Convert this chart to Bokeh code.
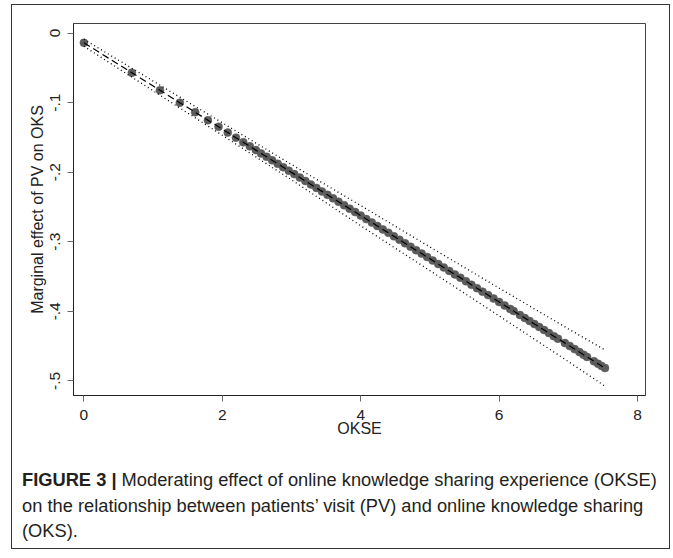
from bokeh.plotting import figure
from bokeh.models import FixedTicker, Column, Div
from bokeh.embed import file_html
from bokeh.resources import INLINE

# ---- data ----
okse = [0.000, 0.693, 1.099, 1.386, 1.609, 1.792, 1.946, 2.079, 2.197, 2.303, 2.398, 2.485,
        2.56, 2.64, 2.72, 2.80, 2.88, 2.96, 3.04, 3.12, 3.20, 3.28, 3.36, 3.44, 3.52, 3.60,
        3.68, 3.76, 3.84, 3.92, 4.00, 4.08, 4.16, 4.24, 4.32, 4.40, 4.48, 4.56, 4.64, 4.72,
        4.80, 4.88, 4.96, 5.04, 5.12, 5.20, 5.28, 5.36, 5.44, 5.52, 5.60, 5.68, 5.76, 5.84,
        5.92, 6.00, 6.08, 6.16, 6.21, 6.30, 6.37, 6.44, 6.51, 6.58, 6.65, 6.72, 6.79, 6.85,
        6.95, 7.02, 7.09, 7.16, 7.22, 7.27, 7.37, 7.43, 7.48, 7.53]
effect = [-0.0140, -0.0570, -0.0822, -0.1001, -0.1139, -0.1253, -0.1348, -0.1431, -0.1504,
          -0.1570, -0.1629, -0.1683,
          -0.1730, -0.1779, -0.1829, -0.1879, -0.1928, -0.1978, -0.2028, -0.2078, -0.2127,
          -0.2177, -0.2226, -0.2276, -0.2326, -0.2376, -0.2425, -0.2475, -0.2525, -0.2574,
          -0.2624, -0.2674, -0.2723, -0.2773, -0.2823, -0.2872, -0.2922, -0.2972, -0.3021,
          -0.3071, -0.3121, -0.3170, -0.3220, -0.3270, -0.3320, -0.3369, -0.3419, -0.3469,
          -0.3518, -0.3568, -0.3618, -0.3667, -0.3717, -0.3767, -0.3816, -0.3866, -0.3916,
          -0.3965, -0.3996, -0.4052, -0.4096, -0.4139, -0.4183, -0.4226, -0.4270, -0.4313,
          -0.4357, -0.4394, -0.4456, -0.4499, -0.4543, -0.4586, -0.4624, -0.4655, -0.4717,
          -0.4754, -0.4785, -0.4816]

ci_x = [0.0, 1.0, 2.0, 3.0, 4.0, 5.0, 6.0, 7.0, 7.53]
ci_upper = [-0.0090, -0.0690, -0.1290, -0.1890, -0.2480, -0.3075, -0.3666, -0.4252, -0.4556]
ci_lower = [-0.0190, -0.0830, -0.1470, -0.2110, -0.2770, -0.3415, -0.4066, -0.4722, -0.5076]

x_ticks = [0, 2, 4, 6, 8]
x_tick_labels = ["0", "2", "4", "6", "8"]
y_ticks = [0.0, -0.1, -0.2, -0.3, -0.4, -0.5]
y_tick_labels = ["0", "-.1", "-.2", "-.3", "-.4", "-.5"]

x_title = "OKSE"
y_title = "Marginal effect of PV on OKS"
caption_bold = "FIGURE 3 |"
caption_lines = ["Moderating effect of online knowledge sharing experience (OKSE)",
                 "on the relationship between patients\u2019 visit (PV) and online knowledge sharing",
                 "(OKS)."]

# ---- main plot ----
W = 657          # inner width of the bordered panel
HP = 455         # height of the plot part
HC = 88          # height of the caption part
FL, FT, FR, FB = 61, 18, 633, 390   # frame box in plot-figure pixels

p = figure(width=W, height=HP, x_range=(-0.15, 8.115), y_range=(-0.521, 0.0137),
           output_backend="svg", toolbar_location=None,
           min_border_left=FL, min_border_right=W - FR,
           min_border_top=FT, min_border_bottom=HP - FB)
p.background_fill_color = "white"
p.border_fill_color = "white"
p.outline_line_color = "#444444"
p.outline_line_width = 1
p.grid.visible = False

font = "Liberation Sans"
for ax in (p.xaxis[0], p.yaxis[0]):
    ax.axis_line_color = "#222222"
    ax.major_tick_line_color = "#666666"
    ax.major_tick_out = 6
    ax.major_tick_in = 0
    ax.minor_tick_line_color = None
    ax.major_label_text_font = font
    ax.major_label_text_font_size = "15.5px"
    ax.major_label_text_color = "#222222"
    ax.axis_label_text_font = font
    ax.axis_label_text_font_size = "16px"
    ax.axis_label_text_font_style = "normal"
    ax.axis_label_text_color = "#222222"

p.xaxis.ticker = FixedTicker(ticks=x_ticks)
p.xaxis.major_label_overrides = dict(zip(x_ticks, x_tick_labels))
p.xaxis.axis_label = x_title
p.xaxis.major_label_standoff = 8
p.xaxis.axis_label_standoff = -3

p.yaxis.ticker = FixedTicker(ticks=y_ticks)
p.yaxis.major_label_overrides = dict(zip(y_ticks, y_tick_labels))
p.yaxis.axis_label = y_title
p.yaxis.major_label_orientation = "vertical"
p.yaxis.major_label_standoff = 7
p.yaxis.axis_label_standoff = 2

# markers, fitted line, confidence bounds
p.scatter(okse, effect, size=8, fill_color="#5c5c5c", line_color="#5c5c5c", line_width=0.5)
p.line(okse, effect, line_color="black", line_width=1.2, line_dash="7 4")
p.line(ci_x, ci_upper, line_color="black", line_width=1.3, line_dash="1 3")
p.line(ci_x, ci_lower, line_color="black", line_width=1.3, line_dash="1 3")

# ---- caption ----
cap_html = (
    '<div style="font-family:\'Liberation Sans\',Arial,sans-serif;font-size:18.3px;'
    'line-height:25.5px;color:#231f20;padding-left:10px;padding-top:7px;'
    'white-space:nowrap;margin:0;">'
    '<b>' + caption_bold + '</b> ' + caption_lines[0] + '<br>'
    + caption_lines[1] + '<br>' + caption_lines[2] + '</div>'
)
c = Div(text=cap_html, width=W, height=HC, styles={"margin": "0", "padding": "0"})

layout = Column(children=[p, c], spacing=0,
                styles={"border": "1px solid #333333", "margin-left": "11px",
                        "margin-top": "4px", "width": "fit-content"})

open("out.html", "w").write(file_html(layout, INLINE))
